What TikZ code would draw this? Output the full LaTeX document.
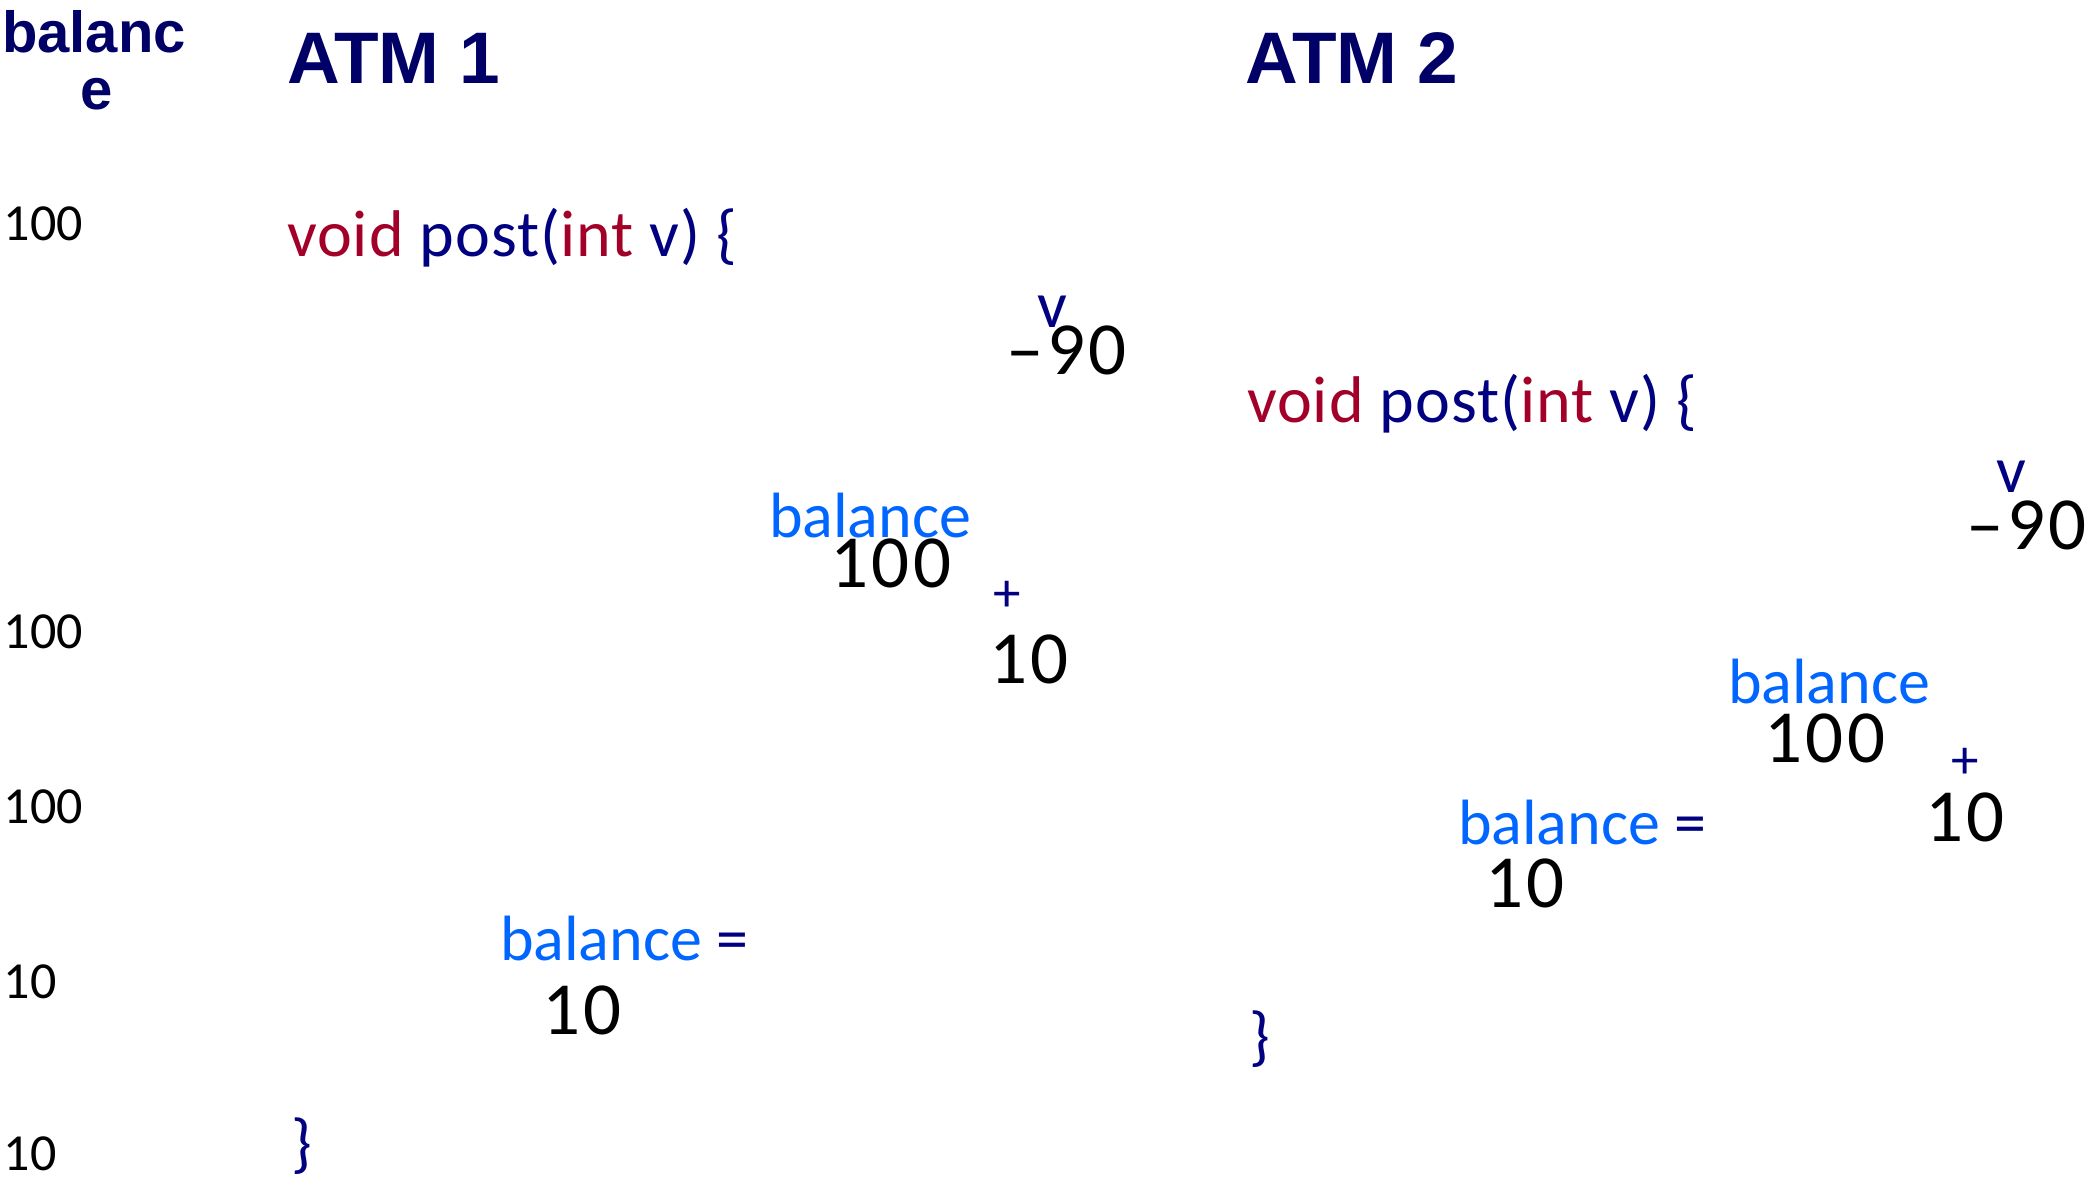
\documentclass[tikz,border=0pt]{standalone}
\usepackage{fontspec}
\setmainfont{Carlito}
\newfontfamily\headfont{Liberation Sans}
\newfontfamily\numfont[LetterSpace=5]{Carlito}
\newfontfamily\codefont[LetterSpace=1.5]{Carlito}
\definecolor{headnavy}{RGB}{0,0,102}
\definecolor{codenavy}{RGB}{0,0,128}
\definecolor{codered}{RGB}{162,0,40}
\definecolor{varblue}{RGB}{0,102,255}
\begin{document}
\begin{tikzpicture}[x=1pt,y=-1pt,
  every node/.style={inner sep=0pt, outer sep=0pt, anchor=base west},
  head/.style={font=\headfont\bfseries\fontsize{73}{80}\selectfont, text=headnavy},
  colhead/.style={font=\headfont\bfseries\fontsize{58}{62}\selectfont, text=headnavy, anchor=base},
  side/.style={font=\fontsize{52}{56}\selectfont, text=black},
  code/.style={font=\codefont\fontsize{66}{70}\selectfont, text=codenavy},
  var/.style={font=\fontsize{64}{70}\selectfont, text=codenavy},
  num/.style={font=\numfont\fontsize{75}{80}\selectfont, text=black},
  op/.style={font=\fontsize{55}{60}\selectfont, text=codenavy}]
\useasboundingbox (0,0) rectangle (2095,1179);
% column heading
\node[colhead] (ch1) at (94,52) {balanc};
\node[colhead] (ch2) at (97,109) {e};
\node[head] (atm1) at (287,83) {ATM 1};
\node[head] (atm2) at (1245,83) {ATM 2};
% balance column
\node[side] (s1) at (4,240) {100};
\node[side] (s2) at (4,648) {100};
\node[side] (s3) at (4,823) {100};
\node[side] (s4) at (4,998) {10};
\node[side] (s5) at (4,1170) {10};
% ATM 1
\node[code] (c1) at (287,256) {\textcolor{codered}{void} post(\textcolor{codered}{int} v) \{};
\node[code] (v1) at (1037,327) {v};
\node[num] (m1) at (1006,374) {–90};
\node[var, text=varblue] (b1) at (769,537) {balance};
\node[num] (h1) at (830,587) {100};
\node[op] (p1) at (993,611) {+};
\node[num] (t1) at (989,683) {10};
\node[var] (a1) at (500,960) {\textcolor{varblue}{balance} =};
\node[num] (r1) at (542,1034) {10};
\node[code] (e1) at (291,1165) {\}};
% ATM 2
\node[code] (c2) at (1247,422) {\textcolor{codered}{void} post(\textcolor{codered}{int} v) \{};
\node[code] (v2) at (1996,492) {v};
\node[num] (m2) at (1966,549) {–90};
\node[var, text=varblue] (b2) at (1728,703) {balance};
\node[num] (h2) at (1764,762) {100};
\node[op] (p2) at (1951,778) {+};
\node[num] (t2) at (1925,841) {10};
\node[var] (a2) at (1458,844) {\textcolor{varblue}{balance} =};
\node[num] (r2) at (1485,907) {10};
\node[code] (e2) at (1249,1058) {\}};
\end{tikzpicture}
\end{document}
